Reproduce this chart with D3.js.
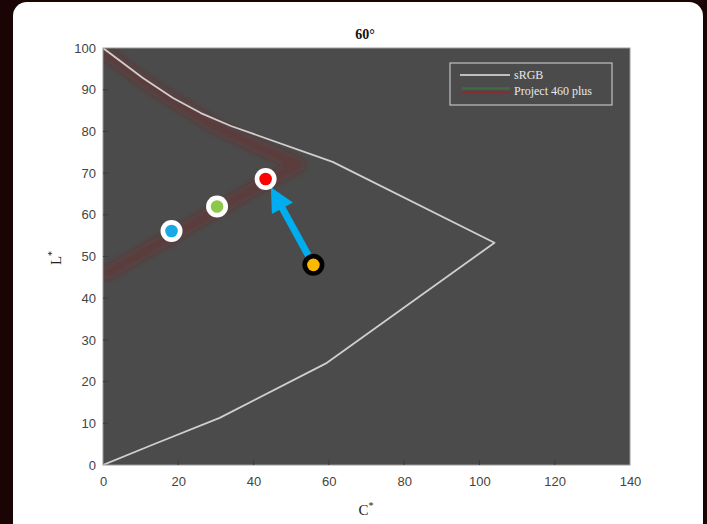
<!DOCTYPE html>
<html>
<head>
<meta charset="utf-8">
<script src="https://cdn.jsdelivr.net/npm/d3@7"></script>
<style>
  html, body { margin: 0; padding: 0; background: #1a0404; }
  svg { display: block; }
</style>
</head>
<body>
<div id="chart"></div>
<script>
'use strict';

// gamut boundary at hue 60deg, [C*, L*]
var srgbBoundary = [[0, 0], [13, 4.8], [31, 11.3], [59.5, 24.5], [104, 53.3], [61, 72.7],
  [34, 81.3], [26, 84.4], [18.6, 88], [10.6, 92.8], [0, 100]];
var projectBoundary = [[0, 99.3], [10, 92.6], [18, 87.8], [30, 81.2], [40, 76.8], [52, 72],
  [40, 66.2], [30, 61], [20, 55.8], [10, 50.6], [0, 45.4]];

// sample points [C*, L*]
var samples = [
  { c: 18.2, l: 56.1, fill: '#19a9e6', ring: '#ffffff' },
  { c: 30.3, l: 62.0, fill: '#8dc84a', ring: '#ffffff' },
  { c: 43.2, l: 68.6, fill: '#ff0000', ring: '#ffffff' },
  { c: 55.9, l: 48.0, fill: '#ffb800', ring: '#000000' }
];
var arrowFrom = { c: 55.9, l: 48.0 };
var arrowTo = { c: 44.6, l: 66.6 };

var xTicks = [0, 20, 40, 60, 80, 100, 120, 140];
var yTicks = [0, 10, 20, 30, 40, 50, 60, 70, 80, 90, 100];
var legendLabels = ['sRGB', 'Project 460 plus'];

var W = 707, H = 524;
var plot = { left: 103, top: 48, right: 630, bottom: 465 };

var svg = d3.select('#chart').append('svg')
  .attr('width', W)
  .attr('height', H);

var defs = svg.append('defs');
defs.append('filter').attr('id', 'soft')
  .attr('x', '-10%').attr('y', '-10%').attr('width', '120%').attr('height', '120%')
  .append('feGaussianBlur').attr('stdDeviation', 3.2);
defs.append('clipPath').attr('id', 'plotclip')
  .append('rect')
  .attr('x', plot.left).attr('y', plot.top)
  .attr('width', plot.right - plot.left).attr('height', plot.bottom - plot.top);

// white card
svg.append('rect')
  .attr('x', 13).attr('y', 2)
  .attr('width', 690).attr('height', 560)
  .attr('rx', 14)
  .attr('fill', '#ffffff');

var x = d3.scaleLinear().domain([0, 140]).range([plot.left, plot.right]);
var y = d3.scaleLinear().domain([0, 100]).range([plot.bottom, plot.top]);

svg.append('rect')
  .attr('x', plot.left).attr('y', plot.top)
  .attr('width', plot.right - plot.left).attr('height', plot.bottom - plot.top)
  .attr('fill', '#4b4b4b');

var line = d3.line()
  .x(function (d) { return x(d[0]); })
  .y(function (d) { return y(d[1]); });

var g = svg.append('g').attr('clip-path', 'url(#plotclip)');

g.append('path')
  .datum(projectBoundary)
  .attr('d', line)
  .attr('fill', 'none')
  .attr('stroke', '#7e1a1a')
  .attr('stroke-opacity', 0.33)
  .attr('stroke-width', 13)
  .attr('stroke-linejoin', 'round')
  .attr('filter', 'url(#soft)');

g.append('path')
  .datum(srgbBoundary)
  .attr('d', line)
  .attr('fill', 'none')
  .attr('stroke', '#cfcfcf')
  .attr('stroke-width', 1.8)
  .attr('stroke-linejoin', 'round');

// axes box
svg.append('rect')
  .attr('x', plot.left).attr('y', plot.top)
  .attr('width', plot.right - plot.left).attr('height', plot.bottom - plot.top)
  .attr('fill', 'none')
  .attr('stroke', '#9a9a9a')
  .attr('stroke-width', 1);

var xAxis = svg.append('g')
  .attr('transform', 'translate(0,' + plot.bottom + ')')
  .call(d3.axisBottom(x).tickValues(xTicks).tickSize(0).tickPadding(12));
var yAxis = svg.append('g')
  .attr('transform', 'translate(' + plot.left + ',0)')
  .call(d3.axisLeft(y).tickValues(yTicks).tickSize(0).tickPadding(7));
[xAxis, yAxis].forEach(function (a) {
  a.select('.domain').remove();
  a.selectAll('text')
    .attr('font-family', 'Liberation Sans, Arial, sans-serif')
    .attr('font-size', 13)
    .attr('fill', '#444');
});

// inward ticks, dark on dark
svg.append('g').selectAll('line.xt')
  .data(xTicks.slice(1, -1))
  .join('line')
  .attr('x1', function (d) { return x(d); }).attr('x2', function (d) { return x(d); })
  .attr('y1', plot.bottom).attr('y2', plot.bottom - 5)
  .attr('stroke', '#3c3c3c');
svg.append('g').selectAll('line.yt')
  .data(yTicks.slice(1, -1))
  .join('line')
  .attr('x1', plot.left).attr('x2', plot.left + 5)
  .attr('y1', function (d) { return y(d); }).attr('y2', function (d) { return y(d); })
  .attr('stroke', '#3c3c3c');

// title and axis labels
svg.append('text')
  .attr('x', 365).attr('y', 39)
  .attr('text-anchor', 'middle')
  .attr('font-family', 'Liberation Serif, Times New Roman, serif')
  .attr('font-weight', 'bold')
  .attr('font-size', 14)
  .attr('fill', '#111')
  .text('60°');

var xl = svg.append('text')
  .attr('x', 366).attr('y', 515)
  .attr('text-anchor', 'middle')
  .attr('font-family', 'Liberation Serif, Times New Roman, serif')
  .attr('font-size', 15)
  .attr('fill', '#222');
xl.append('tspan').text('C');
xl.append('tspan').attr('dy', -6).attr('font-size', 10).text('*');

var yl = svg.append('text')
  .attr('transform', 'translate(61,258) rotate(-90)')
  .attr('text-anchor', 'middle')
  .attr('font-family', 'Liberation Serif, Times New Roman, serif')
  .attr('font-size', 15)
  .attr('fill', '#222');
yl.append('tspan').text('L');
yl.append('tspan').attr('dy', -6).attr('font-size', 10).text('*');

// arrow
var ax0 = x(arrowFrom.c), ay0 = y(arrowFrom.l);
var ax1 = x(arrowTo.c), ay1 = y(arrowTo.l);
var ang = Math.atan2(ay1 - ay0, ax1 - ax0);
var headLen = 24, headHalf = 12;
var bx = ax1 - headLen * Math.cos(ang), by = ay1 - headLen * Math.sin(ang);
svg.append('line')
  .attr('x1', ax0).attr('y1', ay0)
  .attr('x2', bx + 2 * Math.cos(ang)).attr('y2', by + 2 * Math.sin(ang))
  .attr('stroke', '#00aeef')
  .attr('stroke-width', 7);
svg.append('path')
  .attr('d', d3.line()([
    [ax1, ay1],
    [bx - headHalf * Math.sin(ang), by + headHalf * Math.cos(ang)],
    [bx + headHalf * Math.sin(ang), by - headHalf * Math.cos(ang)]
  ]) + 'Z')
  .attr('fill', '#00aeef');

// sample dots
var dots = svg.append('g').selectAll('g')
  .data(samples)
  .join('g')
  .attr('transform', function (d) { return 'translate(' + x(d.c) + ',' + y(d.l) + ')'; });
dots.append('circle').attr('r', 11).attr('fill', function (d) { return d.ring; });
dots.append('circle').attr('r', 6.3).attr('fill', function (d) { return d.fill; });

// legend
var lg = svg.append('g');
lg.append('rect')
  .attr('x', 450).attr('y', 63)
  .attr('width', 162).attr('height', 42)
  .attr('fill', '#4b4b4b')
  .attr('stroke', '#d8d8d8')
  .attr('stroke-width', 1);
lg.append('line')
  .attr('x1', 460).attr('x2', 510).attr('y1', 75).attr('y2', 75)
  .attr('stroke', '#e6e6e6').attr('stroke-width', 1.5);
lg.append('line')
  .attr('x1', 462).attr('x2', 510).attr('y1', 88.5).attr('y2', 88.5)
  .attr('stroke', '#3f6b42').attr('stroke-width', 2.5);
lg.append('line')
  .attr('x1', 462).attr('x2', 510).attr('y1', 92.5).attr('y2', 92.5)
  .attr('stroke', '#8e2a33').attr('stroke-width', 3);
lg.selectAll('text')
  .data(legendLabels)
  .join('text')
  .attr('x', 514)
  .attr('y', function (d, i) { return 79 + i * 16; })
  .attr('font-family', 'Liberation Serif, Times New Roman, serif')
  .attr('font-size', 12)
  .attr('fill', '#e8e8e8')
  .text(function (d) { return d; });
</script>
</body>
</html>
